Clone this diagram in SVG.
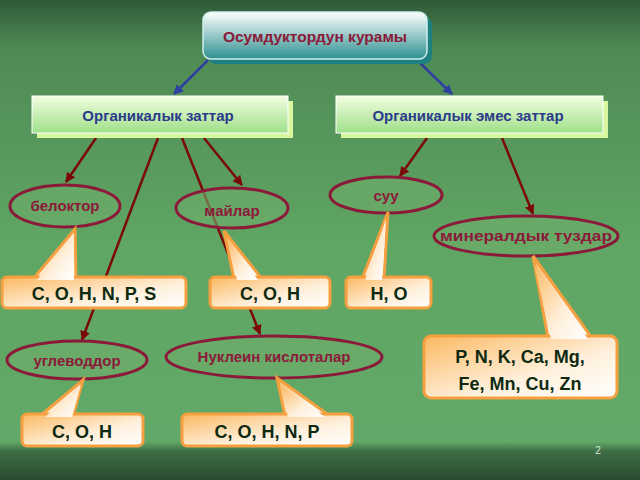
<svg xmlns="http://www.w3.org/2000/svg" width="640" height="480" viewBox="0 0 640 480">
<defs>
<linearGradient id="bg" x1="0" y1="0" x2="0" y2="1">
<stop offset="0" stop-color="#2f5a38"/><stop offset="0.1" stop-color="#4f8a55"/><stop offset="0.5" stop-color="#5fa563"/><stop offset="0.92" stop-color="#62a868"/><stop offset="0.94" stop-color="#3f6e45"/><stop offset="1" stop-color="#2a4a30"/>
</linearGradient>
<linearGradient id="teal" x1="0" y1="0" x2="0" y2="1"><stop offset="0" stop-color="#ffffff"/><stop offset="1" stop-color="#2f9090"/></linearGradient>
<linearGradient id="lg" x1="0" y1="0" x2="0" y2="1"><stop offset="0" stop-color="#f2fde0"/><stop offset="1" stop-color="#9fe08a"/></linearGradient>
<linearGradient id="og" x1="0" y1="0" x2="1" y2="1"><stop offset="0" stop-color="#fbb860"/><stop offset="0.6" stop-color="#fff0dc"/><stop offset="1" stop-color="#ffffff"/></linearGradient>
<marker id="ab" viewBox="0 0 10 10" refX="9" refY="5" markerWidth="4" markerHeight="4" orient="auto"><path d="M0,0L10,5L0,10z" fill="#3040a0"/></marker>
<marker id="ar" viewBox="0 0 10 10" refX="9" refY="5" markerWidth="4" markerHeight="4" orient="auto"><path d="M0,0L10,5L0,10z" fill="#7a0a0a"/></marker>
</defs>
<style>
.t{font-family:"Liberation Sans",Arial,sans-serif;font-weight:bold;text-anchor:middle}
.el{fill:#6fae6a;fill-opacity:0.6;stroke:#8b1a3a;stroke-width:3}
.et{fill:#8b1a3a;font-size:15px}
.co{fill:url(#og);stroke:#f5a040;stroke-width:3}
.ct{fill:#0d2a10;font-size:18px}
.lr{stroke:#7a0a0a;stroke-width:2.5;fill:none}
.lb{stroke:#3040a0;stroke-width:2.5;fill:none}
.bt{fill:#2b3b8a;font-size:15px}
</style>
<rect width="640" height="480" fill="url(#bg)"/>
<g id="connectors">
<line class="lb" x1="208" y1="60" x2="174" y2="94" marker-end="url(#ab)"/>
<line class="lb" x1="417" y1="60" x2="452" y2="94" marker-end="url(#ab)"/>
<line class="lr" x1="96" y1="138" x2="66" y2="182" marker-end="url(#ar)"/>
<line class="lr" x1="158" y1="138" x2="82" y2="340" marker-end="url(#ar)"/>
<line class="lr" x1="182" y1="138" x2="260" y2="334" marker-end="url(#ar)"/>
<line class="lr" x1="204" y1="138" x2="242" y2="185" marker-end="url(#ar)"/>
<line class="lr" x1="427" y1="138" x2="400" y2="176" marker-end="url(#ar)"/>
<line class="lr" x1="502" y1="138" x2="533" y2="214" marker-end="url(#ar)"/>
</g>
<g id="root"><rect x="208" y="17" width="224" height="47" rx="8" fill="#1f8080"/><rect x="203" y="12" width="224" height="47" rx="8" fill="url(#teal)" stroke="#cfeeee" stroke-width="1.5"/><text class="t" x="315" y="42" font-size="15.5" fill="#8b1a3a">Осумдуктордун курамы</text></g>
<g id="org"><rect x="37" y="101" width="256" height="37" fill="#d8f5a0"/><rect x="32" y="96" width="256" height="37" fill="url(#lg)" stroke="#fff" stroke-width="1"/><text class="t bt" x="158" y="121">Органикалык заттар</text></g>
<g id="inorg"><rect x="341" y="101" width="267" height="37" fill="#d8f5a0"/><rect x="336" y="96" width="267" height="37" fill="url(#lg)" stroke="#fff" stroke-width="1"/><text class="t bt" x="468" y="121">Органикалык эмес заттар</text></g>
<g id="belok"><ellipse class="el" cx="65" cy="206" rx="55" ry="21"/><text class="t et" x="65" y="211">белоктор</text></g>
<g id="mai"><ellipse class="el" cx="232" cy="208" rx="56" ry="20"/><text class="t et" x="232" y="216">майлар</text></g>
<g id="suu"><ellipse class="el" cx="386" cy="195" rx="56" ry="18"/><text class="t et" x="386" y="201">суу</text></g>
<g id="min"><ellipse class="el" cx="526" cy="236" rx="92" ry="20"/><text class="t et" x="526" y="241" textLength="172" lengthAdjust="spacingAndGlyphs">минералдык туздар</text></g>
<g id="ugl"><ellipse class="el" cx="77" cy="360" rx="70" ry="19"/><text class="t et" x="77" y="366">углеводдор</text></g>
<g id="nuk"><ellipse class="el" cx="274" cy="357" rx="108" ry="21"/><text class="t et" x="274" y="362">Нуклеин кислоталар</text></g>
<g id="c1"><polygon class="co" points="75,229 33,279 76,279"/><rect class="co" x="2" y="277" width="184" height="31" rx="5"/><polygon points="74,233 37,280 74,280" fill="url(#og)"/><text class="t ct" x="94" y="300">C, O, H, N, P, S</text></g>
<g id="c2"><polygon class="co" points="224,231 234,279 262,279"/><rect class="co" x="210" y="277" width="120" height="31" rx="5"/><polygon points="227,238 237,280 258,280" fill="url(#og)"/><text class="t ct" x="270" y="300">C, O, H</text></g>
<g id="c3"><polygon class="co" points="388,212 362,279 384,279"/><rect class="co" x="346" y="277" width="85" height="31" rx="5"/><polygon points="386,219 365,280 382,280" fill="url(#og)"/><text class="t ct" x="389" y="300">H, O</text></g>
<g id="c4"><polygon class="co" points="533,256 548,338 592,338"/><rect class="co" x="424" y="336" width="193" height="62" rx="7"/><polygon points="534,264 551,339 588,339" fill="url(#og)"/><text class="t ct" x="520" y="363">P, N, K, Ca, Mg,</text><text class="t ct" x="520" y="390">Fe, Mn, Cu, Zn</text></g>
<g id="c5"><polygon class="co" points="83,380 40,416 73,416"/><rect class="co" x="22" y="414" width="121" height="32" rx="5"/><polygon points="81,385 45,417 72,417" fill="url(#og)"/><text class="t ct" x="82" y="438">C, O, H</text></g>
<g id="c6"><polygon class="co" points="277,378 285,416 330,416"/><rect class="co" x="182" y="414" width="170" height="32" rx="5"/><polygon points="280,385 288,417 325,417" fill="url(#og)"/><text class="t ct" x="267" y="438">C, O, H, N, P</text></g>
<text x="598" y="454" font-family="Liberation Sans,sans-serif" font-size="10" fill="#cfe8cf" text-anchor="middle">2</text>
</svg>
